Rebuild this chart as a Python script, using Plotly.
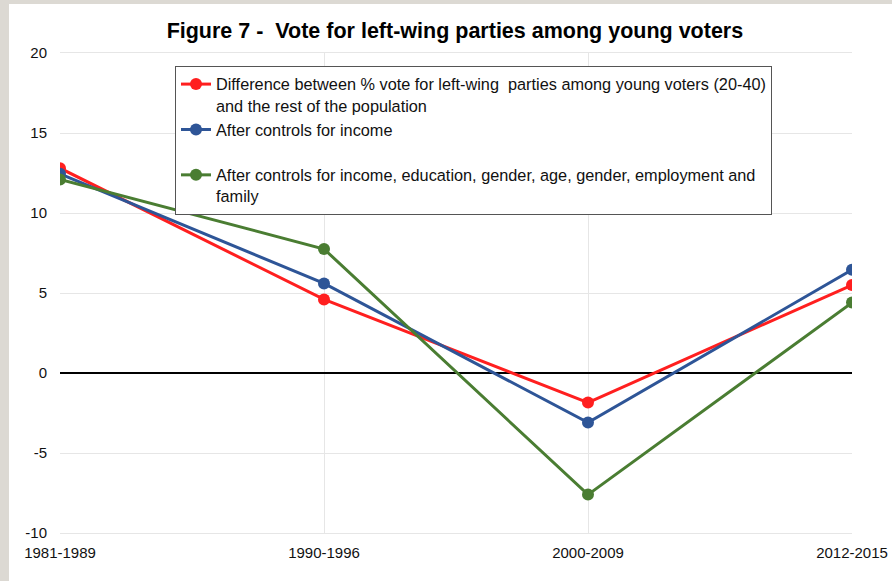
import plotly.graph_objects as go

categories = ["1981-1989", "1990-1996", "2000-2009", "2012-2015"]
raw_diff = [12.8, 4.6, -1.85, 5.5]
ctrl_income = [12.45, 5.6, -3.1, 6.45]
ctrl_all = [12.1, 7.75, -7.6, 4.4]
names = [
    "Difference between % vote for left-wing  parties among young voters (20-40)<br>and the rest of the population",
    "After controls for income<br> ",
    "After controls for income, education, gender, age, gender, employment and<br>family",
]
colors = ["#ff1f1f", "#2e5597", "#4a7d32"]
y_ticks = [-10, -5, 0, 5, 10, 15, 20]
y_tick_labels = ["-10", "-5", "0", "5", "10", "15", "20"]

fig = go.Figure()
for vals, name, col in zip([raw_diff, ctrl_income, ctrl_all], names, colors):
    fig.add_trace(go.Scatter(
        x=categories, y=vals, name=name, mode="lines+markers",
        line=dict(color=col, width=3), marker=dict(color=col, size=12),
    ))

L, R, T, B = 60, 40, 53, 48
W, H = 892, 581
pw, ph = W - L - R, H - T - B

gray = "#dcd9d3"
fig.add_shape(type="rect", xref="paper", yref="paper",
              x0=-L / pw, x1=(9 - L) / pw, y0=-B / ph, y1=1 + T / ph,
              fillcolor=gray, line=dict(width=0), layer="below")
fig.add_shape(type="rect", xref="paper", yref="paper",
              x0=-L / pw, x1=1 + R / pw, y0=1 + (T - 4) / ph, y1=1 + T / ph,
              fillcolor=gray, line=dict(width=0), layer="below")

fig.update_layout(
    width=W, height=H, autosize=False,
    margin=dict(l=L, r=R, t=T, b=B),
    paper_bgcolor="white", plot_bgcolor="white",
    font=dict(family="Liberation Sans, Arial, sans-serif", size=15, color="#111111"),
    title=dict(text="<b>Figure 7 -  Vote for left-wing parties among young voters</b>",
               x=0.51, xanchor="center", y=1 - 30 / H, yanchor="middle",
               font=dict(size=21.5, color="#000000")),
    showlegend=True,
    legend=dict(x=(175 - L) / pw, y=1 - (66 - T) / ph, xanchor="left", yanchor="top",
                bgcolor="white", bordercolor="#555555", borderwidth=1,
                font=dict(size=16.3, color="#111111"), tracegroupgap=0,
                itemwidth=30, valign="top"),
    xaxis=dict(type="category", range=[0, 3], showgrid=True, gridcolor="#e6e6e6",
               gridwidth=1, showline=True, linecolor="#e6e6e6", mirror=True,
               ticks="", tickfont=dict(size=15), zeroline=False, automargin=False,
               ticklabelstandoff=6),
    yaxis=dict(range=[-10, 20], tickvals=y_ticks, ticktext=y_tick_labels,
               showgrid=True, gridcolor="#e6e6e6",
               gridwidth=1, zeroline=True, zerolinecolor="#000000", zerolinewidth=2,
               showline=False, ticks="", tickfont=dict(size=15), automargin=False,
               ticklabelstandoff=12),
)

fig.write_html("out.html", config={"responsive": False, "displayModeBar": False},
               post_script="document.body.style.margin='0';")
